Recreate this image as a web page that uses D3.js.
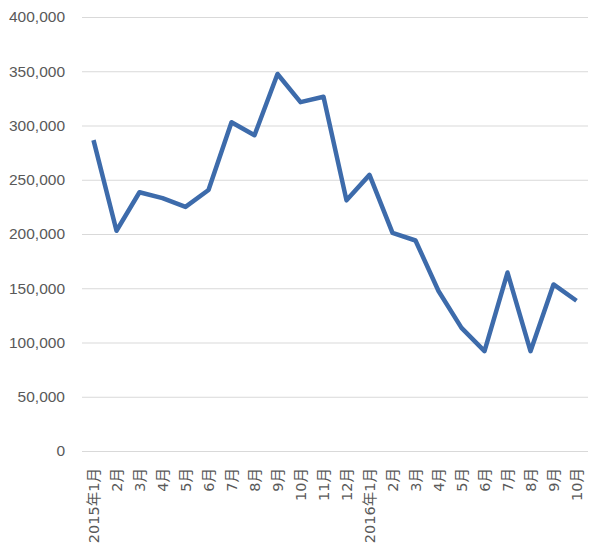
<!DOCTYPE html>
<html>
<head>
<meta charset="utf-8">
<script src="https://cdn.jsdelivr.net/npm/d3@7"></script>
<style>
  body { margin: 0; background: #fff; }
  .y-axis text { font-family: "Liberation Sans", Arial, sans-serif; font-size: 15.5px; fill: #595959; }
  .x-axis text { font-family: "DejaVu Sans", "Noto Sans CJK JP", sans-serif; font-size: 14.5px; fill: #595959; }
</style>
</head>
<body>
<div id="chart"></div>
<script>
var svgWidth = 589;
var svgHeight = 548;

var margin = { top: 17, right: 1, bottom: 97, left: 82 };
var width = svgWidth - margin.left - margin.right;
var height = svgHeight - margin.top - margin.bottom;

// month labels on the x axis
var months = ["2015年1月", "2月", "3月", "4月", "5月", "6月", "7月", "8月", "9月", "10月", "11月", "12月",
  "2016年1月", "2月", "3月", "4月", "5月", "6月", "7月", "8月", "9月", "10月"];

// values
var values = [286500, 203000, 238500, 233000, 225000, 240500, 303000, 291000, 347500, 321500, 326500, 231000,
  254500, 201000, 194000, 147500, 113500, 92000, 164500, 92000, 153500, 138500];

var yTicks = [0, 50000, 100000, 150000, 200000, 250000, 300000, 350000, 400000];

var svg = d3.select("#chart")
  .append("svg")
  .attr("width", svgWidth)
  .attr("height", svgHeight);

var chartGroup = svg.append("g")
  .attr("transform", `translate(${margin.left}, ${margin.top})`);

var xScale = d3.scalePoint()
  .domain(d3.range(months.length))
  .range([0, width])
  .padding(0.5);

var yScale = d3.scaleLinear()
  .domain([0, 400000])
  .range([height, 0]);

// y axis with gridlines
var yAxis = chartGroup.append("g")
  .classed("y-axis", true)
  .call(d3.axisLeft(yScale)
    .tickValues(yTicks)
    .tickSize(-width)
    .tickPadding(17)
    .tickFormat(d3.format(",")));

yAxis.select(".domain").remove();
yAxis.selectAll("line").attr("stroke", "#d9d9d9");

// x axis labels, rotated
var xAxis = chartGroup.append("g")
  .classed("x-axis", true)
  .attr("transform", `translate(0, ${height})`)
  .call(d3.axisBottom(xScale)
    .tickSize(0)
    .tickFormat(i => months[i]));

xAxis.select(".domain").remove();
xAxis.selectAll("text")
  .attr("text-anchor", "end")
  .attr("transform", "rotate(-90)")
  .attr("x", -17)
  .attr("y", 0)
  .attr("dy", "0.35em");

// the line
var line = d3.line()
  .x((d, i) => xScale(i))
  .y(d => yScale(d));

chartGroup.append("path")
  .datum(values)
  .attr("fill", "none")
  .attr("stroke", "#3d6bab")
  .attr("stroke-width", 4.5)
  .attr("stroke-linejoin", "round")
  .attr("d", line);
</script>
</body>
</html>
